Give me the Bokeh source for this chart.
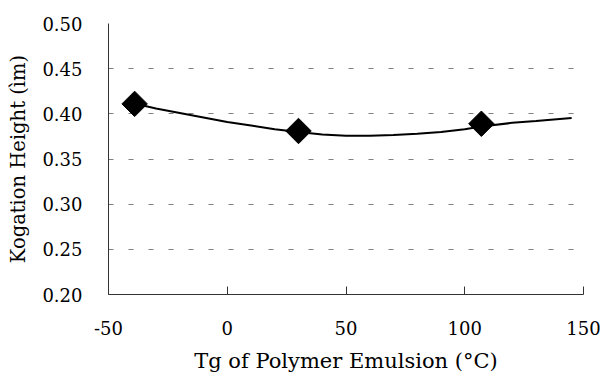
import math
from bokeh.plotting import figure
from bokeh.models import Range1d, FixedTicker, NumeralTickFormatter
from bokeh.embed import file_html
from bokeh.resources import INLINE

# measured data points
tg_values = [-39, 30, 107]
kogation_height = [0.411, 0.381, 0.389]

# trend curve
trend_x = [-40, -30, -20, -10, 0, 10, 20, 30, 40, 50, 60, 70, 80, 90, 100, 107, 120, 130, 145]
trend_y = [0.412, 0.406, 0.401, 0.396, 0.391, 0.387, 0.383, 0.380, 0.377, 0.3757, 0.3757, 0.3765, 0.378, 0.380, 0.383, 0.386, 0.390, 0.392, 0.3955]

x_ticks = [-50, 0, 50, 100, 150]
x_tick_labels = ["-50", "0", "50", "100", "150"]
y_ticks = [0.20, 0.25, 0.30, 0.35, 0.40, 0.45, 0.50]

FONT = "DejaVu Serif"

p = figure(width=603, height=375, output_backend="svg", toolbar_location=None,
           x_range=Range1d(-50, 150), y_range=Range1d(0.2, 0.5),
           min_border_left=108, min_border_right=20, min_border_top=23, min_border_bottom=76)
p.outline_line_color = None
p.background_fill_color = "white"

p.line(trend_x, trend_y, line_color="black", line_width=2)
p.scatter(tg_values, kogation_height, marker="square", angle=math.pi / 4, size=18,
          fill_color="black", line_color="black")

p.xaxis.ticker = FixedTicker(ticks=x_ticks)
p.xaxis.major_label_overrides = {t: s for t, s in zip(x_ticks, x_tick_labels)}
p.yaxis.ticker = FixedTicker(ticks=y_ticks)
p.yaxis.formatter = NumeralTickFormatter(format="0.00")

p.xaxis.axis_label = "Tg of Polymer Emulsion (°C)"
p.yaxis.axis_label = "Kogation Height (ìm)"

for ax in (p.xaxis, p.yaxis):
    ax.axis_label_text_font = FONT
    ax.axis_label_text_font_style = "normal"
    ax.major_label_text_font = FONT
    ax.major_label_text_font_size = "18px"
    ax.major_label_text_color = "black"
    ax.axis_label_text_color = "black"
    ax.minor_tick_line_color = None
    ax.axis_line_color = "#333333"
    ax.axis_line_width = 1

p.xaxis.axis_label_text_font_size = "21px"
p.yaxis.axis_label_text_font_size = "19.5px"

p.xaxis.major_tick_in = 8
p.xaxis.major_tick_out = 0
p.xaxis.major_tick_line_color = "#333333"
p.xaxis.major_label_standoff = 26
p.xaxis.axis_label_standoff = 11

p.yaxis.major_tick_in = 0
p.yaxis.major_tick_out = 0
p.yaxis.major_label_standoff = 26
p.yaxis.axis_label_standoff = 9

p.xgrid.grid_line_color = None
p.ygrid.grid_line_color = "#808080"
p.ygrid.grid_line_dash = "5 15"
p.ygrid.grid_line_width = 1

open("out.html", "w").write(file_html(p, INLINE))
